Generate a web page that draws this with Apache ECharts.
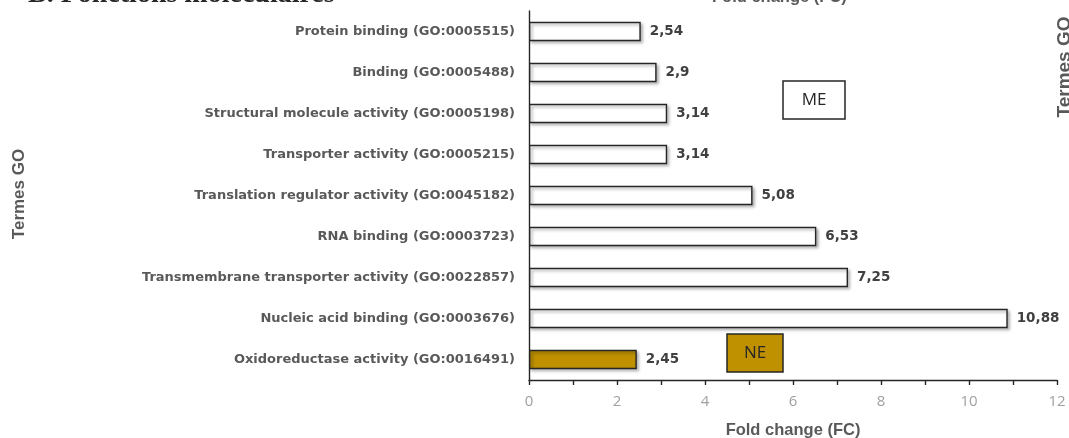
<!DOCTYPE html>
<html><head><meta charset="utf-8">
<script src="https://cdn.jsdelivr.net/npm/echarts@6/dist/echarts.min.js"></script>
<style>html,body{margin:0;padding:0;background:#fff}#c{width:1069px;height:438px}</style>
</head><body><div id="c"></div>
<script>
const categories = [
  'Protein binding (GO:0005515)',
  'Binding (GO:0005488)',
  'Structural molecule activity (GO:0005198)',
  'Transporter activity (GO:0005215)',
  'Translation regulator activity (GO:0045182)',
  'RNA binding (GO:0003723)',
  'Transmembrane transporter activity (GO:0022857)',
  'Nucleic acid binding (GO:0003676)',
  'Oxidoreductase activity (GO:0016491)'
];
const foldChange = [2.54, 2.9, 3.14, 3.14, 5.08, 6.53, 7.25, 10.88, 2.45];
const groups = ['ME','ME','ME','ME','ME','ME','ME','ME','NE'];
const xTicks = [0, 2, 4, 6, 8, 10, 12];

const colors = {ME: '#ffffff', NE: '#BF9000'};
const chart = echarts.init(document.getElementById('c'));
chart.setOption({
  animation: false,
  grid: {left: 529, right: 12, top: 11, bottom: 58, containLabel: false, outerBoundsMode: 'none'},
  xAxis: {
    type: 'value', min: 0, max: 12, interval: 1,
    axisLine: {show: true, lineStyle: {color: '#262626', width: 1.4}},
    axisTick: {show: true, length: 5, lineStyle: {color: '#262626', width: 1.4}},
    splitLine: {show: false},
    axisLabel: {color: '#a0a0a0', fontSize: 15, fontFamily: 'Open Sans', margin: 14,
      formatter: v => xTicks.includes(v) ? String(v) : ''},
    name: 'Fold change (FC)', nameLocation: 'middle', nameGap: 42,
    nameTextStyle: {color: '#595959', fontSize: 16.5, fontWeight: 'bold', fontFamily: 'Liberation Sans'}
  },
  yAxis: {
    type: 'category', data: categories, inverse: true,
    axisLine: {show: true, lineStyle: {color: '#262626', width: 1.4}},
    axisTick: {show: false},
    axisLabel: {color: '#595959', fontSize: 13, fontWeight: 'bold', fontFamily: 'DejaVu Sans', margin: 14}
  },
  series: [{
    type: 'bar', barWidth: '47%',
    data: foldChange.map((v, i) => ({value: v, itemStyle: {color: colors[groups[i]]}})),
    itemStyle: {borderColor: '#262626', borderWidth: 1.4,
      shadowBlur: 3, shadowOffsetX: 2, shadowOffsetY: 2, shadowColor: 'rgba(0,0,0,0.35)'},
    label: {show: true, position: 'right', distance: 9, color: '#404040', fontSize: 13.5,
      fontWeight: 'bold', fontFamily: 'DejaVu Sans',
      formatter: p => String(p.value).replace('.', ',')}
  }],
  graphic: [
    {type: 'text', left: 28, top: -19, style: {text: 'B. Fonctions moléculaires', fill: '#262626',
      font: 'bold 28px "Liberation Serif"'}},
    {type: 'text', left: 712, top: -11, style: {text: 'Fold change (FC)', fill: '#595959',
      font: 'bold 16.5px "Liberation Sans"'}},
    {type: 'text', x: 19, y: 194, rotation: Math.PI / 2, style: {text: 'Termes GO', fill: '#595959',
      font: 'bold 17px "Liberation Sans"', align: 'center', verticalAlign: 'middle'}},
    {type: 'text', x: 1065, y: 67, rotation: Math.PI / 2, style: {text: 'Termes GO', fill: '#595959',
      font: 'bold 19px "Liberation Sans"', align: 'center', verticalAlign: 'middle'}},
    {type: 'rect', shape: {x: 783, y: 81, width: 62, height: 38}, style: {fill: '#fff', stroke: '#262626', lineWidth: 1.5}},
    {type: 'text', x: 814, y: 100, style: {text: 'ME', fill: '#262626', font: '17px "Open Sans"', align: 'center', verticalAlign: 'middle'}},
    {type: 'rect', shape: {x: 727, y: 334, width: 56, height: 38}, style: {fill: '#BF9000', stroke: '#262626', lineWidth: 1.5}},
    {type: 'text', x: 755, y: 353, style: {text: 'NE', fill: '#262626', font: '17px "Open Sans"', align: 'center', verticalAlign: 'middle'}}
  ]
});
</script></body></html>
